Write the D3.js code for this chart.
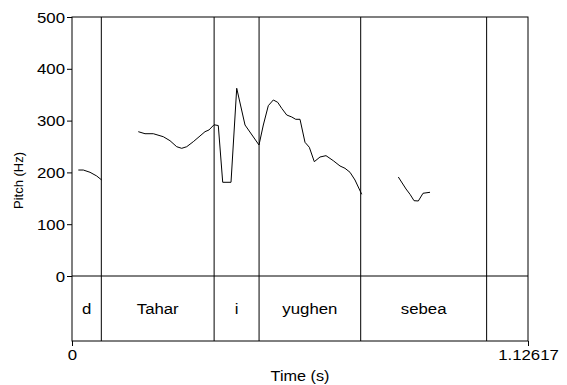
<!DOCTYPE html>
<html>
<head>
<meta charset="utf-8">
<script src="https://cdn.jsdelivr.net/npm/d3@7"></script>
<style>
  html, body { margin: 0; padding: 0; background: #fff; }
  svg { display: block; }
  text { font-family: "Liberation Sans", Arial, sans-serif; fill: #000; }
</style>
</head>
<body>
<svg id="chart" width="567" height="385"></svg>
<script>
// Pitch track (time in s, F0 in Hz); null marks an unvoiced gap
const pitchTime = [
  0.0156, 0.0279, 0.0445, 0.0610, 0.0733, null,
  0.1637, 0.1803, 0.2008, 0.2255, 0.2420, 0.2586, 0.2709, 0.2833, 0.2996, 0.3161,
  0.3285, 0.3383, 0.3507, 0.3613, 0.3722, 0.3927, 0.4068, 0.4273, 0.4618, 0.4725,
  0.4848, 0.4972, 0.5080, 0.5179, 0.5303, 0.5426, 0.5525, 0.5631, 0.5754, 0.5861,
  0.5984, 0.6125, 0.6273, 0.6453, 0.6619, 0.6742, 0.6866, 0.6989, 0.7155, null,
  0.8059, 0.8249, 0.8348, 0.8447, 0.8553, 0.8669, 0.8842
];
const pitchHz = [
  204.6, 204.6, 200.2, 193.1, 185.3, null,
  278.6, 274.7, 274.7, 268.9, 261.2, 249.6, 246.5, 249.6, 259.3, 270.3,
  278.6, 281.9, 291.9, 290.5, 180.9, 180.9, 362.4, 291.5, 252.9, 291.5,
  328.8, 339.8, 335.3, 323.7, 310.8, 307.0, 302.5, 302.5, 258.1, 248.5,
  220.7, 229.7, 232.3, 222.6, 212.4, 207.9, 200.2, 185.3, 157.7, null,
  191.1, 168.0, 157.7, 145.4, 144.8, 159.7, 161.6
];

// Word tier: interval boundaries (s) and labels
const boundaries = [0.0724, 0.351, 0.462, 0.713, 1.024];
const wordLabels = ["d", "Tahar", "i", "yughen", "sebea", ""];

const yTicks = [0, 100, 200, 300, 400, 500];
const xTickLabels = ["0", "1.12617"];
const tMax = 1.12617;

const svg = d3.select("#chart");
const padL = 72, padR = 528, padT = 17, zeroY = 276, padB = 341;
const FONT = "Liberation Sans, Arial, sans-serif";
const STRETCH = 1.12;   // slightly wide lettering

const x = d3.scaleLinear().domain([0, tMax]).range([padL, padR]);
const y = d3.scaleLinear().domain([0, 500]).range([zeroY, padT]);

// Place a horizontally stretched text label anchored at (cx, cy)
function label(parent, cx, cy, str, size, anchor) {
  return parent.append("text")
    .attr("transform", `translate(${cx},${cy}) scale(${STRETCH},1)`)
    .attr("text-anchor", anchor || "middle")
    .attr("dominant-baseline", "central")
    .attr("font-size", size)
    .attr("font-family", FONT)
    .text(str);
}

// Outer frame
svg.append("rect")
  .attr("x", padL).attr("y", padT)
  .attr("width", padR - padL).attr("height", padB - padT)
  .attr("fill", "none").attr("stroke", "#000").attr("stroke-width", 1);

// Separator between pitch pane and word tier
svg.append("line")
  .attr("x1", padL).attr("x2", padR)
  .attr("y1", zeroY).attr("y2", zeroY)
  .attr("stroke", "#000").attr("stroke-width", 1);

// Interval boundaries, spanning both panes
svg.selectAll("line.bound").data(boundaries).enter().append("line")
  .attr("class", "bound")
  .attr("x1", d => x(d)).attr("x2", d => x(d))
  .attr("y1", padT).attr("y2", padB)
  .attr("stroke", "#000").attr("stroke-width", 1);

// Interval labels centred in each interval
const edges = [0, ...boundaries, tMax];
wordLabels.forEach((w, i) => {
  label(svg, (x(edges[i]) + x(edges[i + 1])) / 2, 309, w, 15);
});

// Y axis
const yAxis = d3.axisLeft(y).tickValues(yTicks).tickSize(5).tickSizeOuter(0).tickPadding(2);
const gy = svg.append("g").attr("transform", `translate(${padL},0)`).call(yAxis);
gy.select(".domain").remove();
gy.selectAll("line").attr("stroke", "#000");
gy.selectAll("text")
  .attr("font-size", 15).attr("font-family", FONT).attr("fill", "#000")
  .attr("transform", `translate(-7,0) scale(${STRETCH},1)`).attr("x", 0)
  .attr("dy", null).attr("dominant-baseline", "central");

// X axis: only the end ticks
const xAxis = d3.axisBottom(x).tickValues([0, tMax]).tickSize(5).tickSizeOuter(0).tickPadding(4)
  .tickFormat((d, i) => xTickLabels[i]);
const gx = svg.append("g").attr("transform", `translate(0,${padB})`).call(xAxis);
gx.select(".domain").remove();
gx.selectAll("line").attr("stroke", "#000");
gx.selectAll("text")
  .attr("font-size", 15).attr("font-family", FONT).attr("fill", "#000")
  .attr("transform", `translate(0,14) scale(${STRETCH},1)`).attr("y", 0)
  .attr("dy", null).attr("dominant-baseline", "central");

// Axis titles
label(svg, (padL + padR) / 2, 376, "Time (s)", 14.5);

svg.append("text")
  .attr("transform", `translate(18,${(padT + zeroY) / 2 + 34}) rotate(-90)`)
  .attr("text-anchor", "middle").attr("dominant-baseline", "central")
  .attr("font-size", 13)
  .attr("font-family", FONT)
  .text("Pitch (Hz)");

// Pitch contour
const pts = pitchTime.map((t, i) => [t, pitchHz[i]]);
const line = d3.line()
  .defined(d => d[0] !== null && d[1] !== null)
  .x(d => x(d[0])).y(d => y(d[1]));
svg.append("path")
  .datum(pts)
  .attr("d", line)
  .attr("fill", "none")
  .attr("stroke", "#000")
  .attr("stroke-width", 1)
  .attr("stroke-linejoin", "round");
</script>
</body>
</html>
